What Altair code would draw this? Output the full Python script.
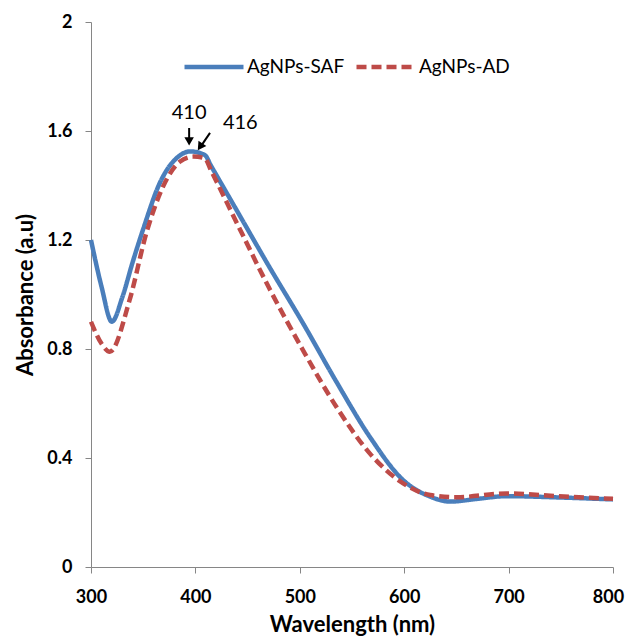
import altair as alt
import pandas as pd

# ---- data ----
saf_nm = [300, 310, 320, 330, 340, 350, 366, 385, 395, 409, 415, 440, 471, 503, 535, 567, 599, 625, 644, 670, 698, 750, 800]
saf_abs = [1.20, 1.03, 0.90, 0.99, 1.12, 1.24, 1.41, 1.51, 1.525, 1.512, 1.472, 1.306, 1.10, 0.895, 0.68, 0.478, 0.319, 0.258, 0.240, 0.250, 0.260, 0.255, 0.248]

ad_nm = [300, 310, 318, 337, 353, 369, 385, 398, 409, 415, 440, 471, 503, 535, 567, 599, 625, 650, 698, 746, 800]
ad_abs = [0.90, 0.82, 0.79, 0.98, 1.225, 1.396, 1.487, 1.506, 1.50, 1.455, 1.26, 1.021, 0.796, 0.588, 0.417, 0.307, 0.264, 0.256, 0.270, 0.260, 0.250]

series_names = ["AgNPs-SAF", "AgNPs-AD"]
series_colors = ["#4A7EBB", "#BE4B48"]

peak_labels = ["410", "416"]
label_nm = [394, 443]
label_abs = [1.666, 1.63]
arrow_x = [394, 414]
arrow_y = [1.611, 1.593]
arrow_x2 = [394, 406]
arrow_y2 = [1.572, 1.548]
head_x = [394, 404.5]
head_y = [1.562, 1.542]
head_shape = ["triangle-down", "triangle-up"]
head_angle = [0, 214]

x_ticks = [300, 400, 500, 600, 700, 800]
y_ticks = [0, 0.4, 0.8, 1.2, 1.6, 2]

FONT = "Lato"

lines_df = pd.concat([
    pd.DataFrame({"nm": saf_nm, "abs": saf_abs, "series": series_names[0]}),
    pd.DataFrame({"nm": ad_nm, "abs": ad_abs, "series": series_names[1]}),
])

x_enc = alt.X("nm:Q", scale=alt.Scale(domain=[300, 800], nice=False),
              axis=alt.Axis(values=x_ticks, title="Wavelength (nm)", grid=False,
                            labelFont=FONT, labelFontSize=18, labelFontWeight="bold",
                            labelColor="black", titleFont=FONT, titleFontSize=22,
                            titleFontWeight="bold", titleColor="black",
                            domainColor="#868686", tickColor="#868686", tickSize=6,
                            labelOffset={"condition": {"test": "datum.value == 800", "value": -5}, "value": 0},
                            labelFlush=False, labelPadding=15, titlePadding=8))
y_enc = alt.Y("abs:Q", scale=alt.Scale(domain=[0, 2], nice=False),
              axis=alt.Axis(values=y_ticks, format="~g", title="Absorbance (a.u)", grid=False,
                            labelFont=FONT, labelFontSize=18, labelFontWeight="bold",
                            labelColor="black", titleFont=FONT, titleFontSize=22,
                            titleFontWeight="bold", titleColor="black",
                            domainColor="#868686", tickColor="#868686", tickSize=6,
                            labelFlush=False, labelPadding=13, titlePadding=9))

lines = alt.Chart(lines_df).mark_line(strokeWidth=4.5, interpolate="monotone").encode(
    x=x_enc,
    y=y_enc,
    color=alt.Color("series:N", scale=alt.Scale(domain=series_names, range=series_colors),
                    legend=alt.Legend(title=None)),
    strokeDash=alt.StrokeDash("series:N",
                              scale=alt.Scale(domain=series_names, range=[[1, 0], [10, 5]]),
                              legend=alt.Legend(title=None)),
    order=alt.Order("nm:Q"),
)

arrows_df = pd.DataFrame({"x": arrow_x, "y": arrow_y, "x2": arrow_x2, "y2": arrow_y2})
shafts = alt.Chart(arrows_df).mark_rule(color="black", strokeWidth=2).encode(
    x="x:Q", y="y:Q", x2="x2:Q", y2="y2:Q")

heads_df = pd.DataFrame({"x": head_x, "y": head_y, "shape": head_shape, "angle": head_angle})
heads = alt.Chart(heads_df).mark_point(filled=True, color="black", size=90, opacity=1).encode(
    x="x:Q", y="y:Q",
    shape=alt.Shape("shape:N", scale=None),
    angle=alt.Angle("angle:Q", scale=None))

labels_df = pd.DataFrame({"x": label_nm, "y": label_abs, "t": peak_labels})
labels = alt.Chart(labels_df).mark_text(font=FONT, fontSize=20, color="black",
                                         align="center", baseline="middle").encode(
    x="x:Q", y="y:Q", text="t:N")

chart = alt.layer(lines, shafts, heads, labels).properties(
    width=522, height=545,
    autosize=alt.AutoSizeParams(type="none"),
    padding={"left": 83, "top": 14, "right": 12, "bottom": 69},
).configure_view(stroke=None).configure_legend(
    orient="none", legendX=91, legendY=13, direction="horizontal",
    labelFont=FONT, labelFontSize=19, labelColor="black", labelOffset=1,
    symbolType="stroke", symbolSize=3481, symbolStrokeWidth=4.5,
    columnPadding=2, padding=0, labelLimit=300,
)

chart.save("out.html", embed_options={"renderer": "svg", "actions": False})
